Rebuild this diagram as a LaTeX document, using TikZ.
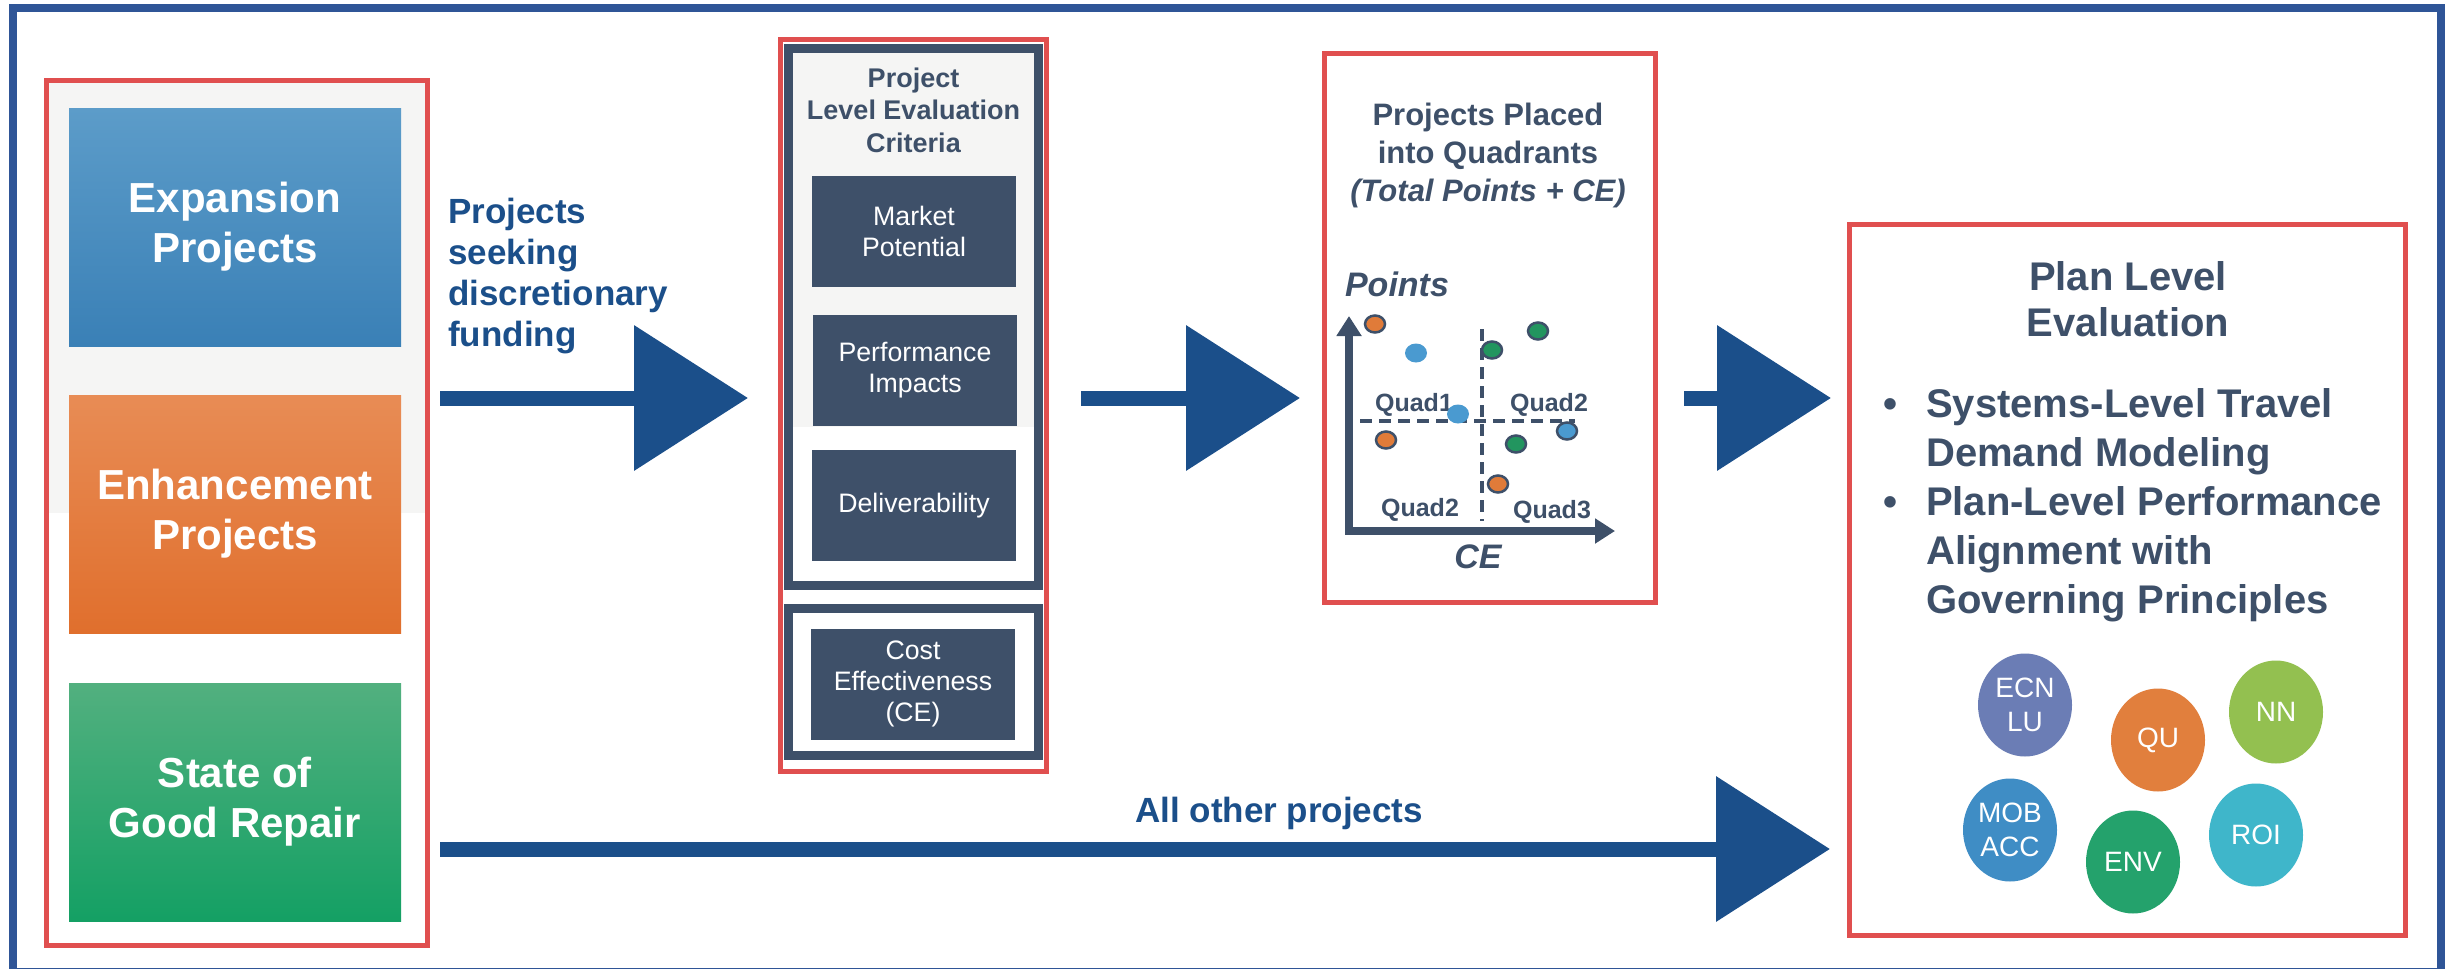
\documentclass[tikz,border=0pt]{standalone}
\usepackage{fontspec}
\setmainfont{Liberation Sans}
\usetikzlibrary{arrows.meta,shapes.geometric,calc}
\definecolor{frameblue}{HTML}{2F5597}
\definecolor{redline}{HTML}{E04F4F}
\definecolor{slate}{HTML}{3E5069}
\definecolor{arrowblue}{HTML}{1B4F8A}
\definecolor{bggray}{HTML}{F5F5F4}
\definecolor{expT}{HTML}{5C9CC9}
\definecolor{expB}{HTML}{3A80B6}
\definecolor{enhT}{HTML}{E88C55}
\definecolor{enhB}{HTML}{E06F2D}
\definecolor{sgrT}{HTML}{52B07F}
\definecolor{sgrB}{HTML}{14A064}
\definecolor{dotorange}{HTML}{E07B39}
\definecolor{dotblue}{HTML}{4A9AD0}
\definecolor{dotgreen}{HTML}{22955F}
\definecolor{cECN}{HTML}{6B7DB5}
\definecolor{cQU}{HTML}{E17F3D}
\definecolor{cNN}{HTML}{93C050}
\definecolor{cMOB}{HTML}{3F8DC5}
\definecolor{cENV}{HTML}{24A26C}
\definecolor{cROI}{HTML}{3FB6CA}
\begin{document}
\begin{tikzpicture}[x=1pt,y=-1pt,
  redbox/.style={draw=redline, line width=5, inner sep=0},
  catbox/.style={rectangle, minimum width=332, minimum height=238, inner sep=0, text=white,
     font=\fontsize{42}{50}\selectfont\bfseries, align=center},
  navyframe/.style={draw=slate, line width=9, minimum width=250, inner sep=0},
  critbox/.style={fill=slate, minimum width=204, minimum height=111, inner sep=0, text=white,
     font=\fontsize{26.7}{31}\selectfont, align=center},
  bigarrow/.style={arrowblue, line width=15, -{Triangle[length=114pt,width=142pt]}},
  axisline/.style={slate, line width=8, line join=miter},
  quaddash/.style={slate, line width=4, dash pattern=on 12pt off 7pt},
  dot/.style={ellipse, minimum width=20, minimum height=17, inner sep=0, draw=slate, line width=2.5},
  softdot/.style={ellipse, minimum width=22, minimum height=19, inner sep=0, fill=dotblue},
  qlabel/.style={text=slate, font=\fontsize{25}{30}\selectfont\bfseries, inner sep=0},
  gp/.style={ellipse, minimum width=94, minimum height=103, inner sep=0, text=white,
     font=\fontsize{28}{34}\selectfont, align=center},
  plantext/.style={text=slate, font=\fontsize{40}{49}\selectfont\bfseries, align=left, inner sep=0},
]
\useasboundingbox (0,0) rectangle (2450,969);
\fill[white] (0,0) rectangle (2450,969);
\draw[frameblue, line width=8] (13,8) rectangle (2441,972);

% ---- left column ----
\fill[bggray] (49,83) rectangle (425,513);
\node[redbox, minimum width=381, minimum height=865] (leftbox) at (237,513) {};
\node[catbox, top color=expT, bottom color=expB] (exp) at (235,227) {Expansion\\Projects};
\node[catbox, top color=enhT, bottom color=enhB] (enh) at (235,514) {Enhancement\\Projects};
\node[catbox, top color=sgrT, bottom color=sgrB] (sgr) at (235,802) {State of\\Good Repair};

\node[anchor=north west, inner sep=0, text=arrowblue, align=left,
      font=\fontsize{35}{41}\selectfont\bfseries] (seek) at (448,198)
      {Projects\\seeking\\discretionary\\funding};

% ---- criteria column ----
\fill[bggray] (793,53) rectangle (1034,427);
\node[redbox, minimum width=266, minimum height=732] (critbox) at (913.5,405.5) {};
\node[navyframe, minimum height=537] (upframe) at (913.5,317) {};
\node[navyframe, minimum height=147] (lowframe) at (913.5,682) {};
\node[anchor=north, inner sep=0, text=slate, align=center,
      font=\fontsize{27}{32.5}\selectfont\bfseries] (crittitle) at (913.5,67.5)
      {Project\\Level Evaluation\\Criteria};
\node[critbox] (market) at (914,231.5) {Market\\Potential};
\node[critbox] (perf) at (915,370.5) {Performance\\Impacts};
\node[critbox] (deliv) at (914,505.5) {Deliverability};
\node[critbox] (cost) at (913,684) {Cost\\Effectiveness\\(CE)};

% ---- quadrant column ----
\node[redbox, minimum width=331, minimum height=549] (quadbox) at (1490,328) {};
\node[anchor=north, inner sep=0, text=slate, align=center,
      font=\fontsize{31}{38}\selectfont\bfseries] (quadtitle) at (1488,103)
      {Projects Placed\\into Quadrants\\\textit{(Total Points + CE)}};
\node[text=slate, inner sep=0, font=\fontsize{34}{40}\selectfont\bfseries\itshape] (ptslabel) at (1397,284) {Points};
\node[text=slate, inner sep=0, font=\fontsize{34}{40}\selectfont\bfseries\itshape] (celabel) at (1478,557) {CE};
\coordinate (ytip) at (1349,316);
\coordinate (qorig) at (1349,531);
\coordinate (xtip) at (1615,531);
\draw[axisline, {Triangle[length=20pt,width=24pt]}-{Triangle[length=20pt,width=24pt]}] (ytip) -- (qorig) -- (xtip);
\coordinate (vd1) at (1482,329);
\coordinate (vd2) at (1482,521);
\coordinate (hd1) at (1360,421);
\coordinate (hd2) at (1575,421);
\draw[quaddash] (vd1) -- (vd2);
\draw[quaddash] (hd1) -- (hd2);
\node[qlabel] (q1) at (1414,405) {Quad1};
\node[qlabel] (q2a) at (1549,405) {Quad2};
\node[qlabel] (q2b) at (1420,510) {Quad2};
\node[qlabel] (q3) at (1552,512) {Quad3};
\node[dot, fill=dotorange] (d1) at (1375,324) {};
\node[softdot] (d2) at (1416,353) {};
\node[dot, fill=dotgreen] (d3) at (1492,350) {};
\node[dot, fill=dotgreen] (d4) at (1538,331) {};
\node[softdot] (d5) at (1458,414) {};
\node[dot, fill=dotorange] (d6) at (1386,440) {};
\node[dot, fill=dotblue] (d7) at (1567,431) {};
\node[dot, fill=dotgreen] (d8) at (1516,444) {};
\node[dot, fill=dotorange] (d9) at (1498,484) {};

% ---- plan column ----
\node[redbox, minimum width=556, minimum height=711] (planbox) at (2127.5,580) {};
\node[anchor=north, inner sep=0, text=slate, align=center,
      font=\fontsize{40}{46}\selectfont\bfseries] (plantitle) at (2128,261)
      {Plan Level\\Evaluation};
\node[plantext, anchor=north west] (bul1) at (1926,388)
      {\llap{\textbullet\hspace{29pt}}Systems-Level Travel\\Demand Modeling};
\node[plantext, anchor=north west] (bul2) at (1926,486)
      {\llap{\textbullet\hspace{29pt}}Plan-Level Performance\\Alignment with\\Governing Principles};
\node[gp, fill=cECN] (ecn) at (2025,705) {ECN\\LU};
\node[gp, fill=cQU] (qu) at (2158,740) {QU};
\node[gp, fill=cNN] (nn) at (2276,712) {NN};
\node[gp, fill=cMOB] (mob) at (2010,830) {MOB\\ACC};
\node[gp, fill=cENV] (env) at (2133,862) {ENV};
\node[gp, fill=cROI] (roi) at (2256,835) {ROI};

% ---- arrows ----
\coordinate (row1) at (0,398);
\coordinate (row2) at (0,849);
\draw[bigarrow] ($(leftbox.east |- row1)+(10,0)$) -- ($(critbox.west |- row1)+(-30,0)$);
\draw[bigarrow] ($(critbox.east |- row1)+(32,0)$) -- ($(quadbox.west |- row1)+(-22,0)$);
\draw[bigarrow] ($(quadbox.east |- row1)+(26,0)$) -- ($(planbox.west |- row1)+(-16,0)$);
\draw[bigarrow] ($(leftbox.east |- row2)+(10,0)$) -- ($(planbox.west |- row2)+(-17,0)$);
\node[anchor=base west, inner sep=0, text=arrowblue,
      font=\fontsize{35}{41}\selectfont\bfseries] (allother) at (1135,822) {All other projects};
\end{tikzpicture}
\end{document}
